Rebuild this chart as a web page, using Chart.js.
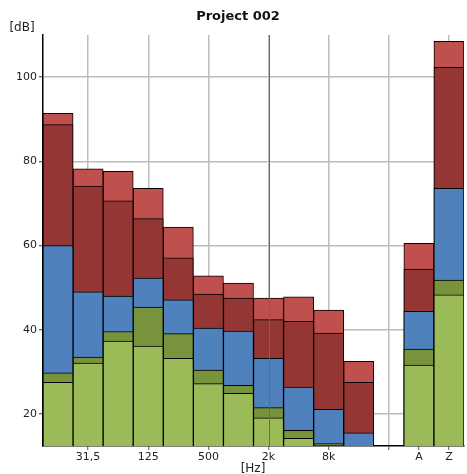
<!DOCTYPE html>
<html>
<head>
<meta charset="utf-8">
<script src="https://cdn.jsdelivr.net/npm/chart.js@4.4.1/dist/chart.umd.min.js"></script>
<style>
  html, body { margin: 0; padding: 0; background: #fff; }
  #box { width: 467px; height: 474px; }
</style>
</head>
<body>
<div id="box"><canvas id="grafico"></canvas></div>
<script>
// bandas de oitava + A / Z (uma posição vazia entre elas)
let bandas = ["16", "31,5", "63", "125", "250", "500", "1k", "2k", "4k", "8k", "16k", "", "A", "Z"];
let rotulosX = ["", "31,5", "", "125", "", "500", "", "2k", "", "8k", "", "", "A", "Z"];
let ticksY = [20, 40, 60, 80, 100];

// níveis em dB, do menor para o maior
let verdeClaro  = [27.5, 32.1, 37.3, 36.1, 33.2, 27.2, 24.9, 19.1, 14.2, 12.5, 8, null, 31.6, 48.3];
let verdeEscuro = [29.8, 33.5, 39.6, 45.4, 39.1, 30.4, 26.8, 21.5, 16.1, 13.0, 10, null, 35.4, 51.8];
let azul        = [60.0, 49.0, 48.0, 52.3, 47.1, 40.4, 39.7, 33.2, 26.4, 21.1, 15.5, null, 44.4, 73.6];
let vermEscuro  = [88.7, 74.1, 70.6, 66.4, 57.1, 48.5, 47.5, 42.4, 42.0, 39.2, 27.5, null, 54.4, 102.3];
let vermClaro   = [91.4, 78.2, 77.6, 73.6, 64.4, 52.8, 51.1, 47.5, 47.8, 44.7, 32.5, null, 60.5, 108.5];

let fonte = "'DejaVu Sans', Verdana, sans-serif";

function serie(dados, cor) {
  return {
    data: dados,
    backgroundColor: cor,
    borderColor: "#000000",
    borderWidth: 1,
    borderSkipped: false,
    barPercentage: 1,
    categoryPercentage: 1
  };
}

// linha roxa em 2k e textos fixos
const extras = {
  id: "extras",
  afterDatasetsDraw(chart) {
    const ctx = chart.ctx;
    const area = chart.chartArea;
    const x = chart.scales.x.getPixelForValue(7);
    ctx.save();
    ctx.strokeStyle = "#7a5a8c";
    ctx.lineWidth = 1;
    ctx.beginPath();
    ctx.moveTo(Math.round(x) + 0.5, area.top);
    ctx.lineTo(Math.round(x) + 0.5, area.bottom);
    ctx.stroke();
    ctx.restore();
  },
  afterDraw(chart) {
    const ctx = chart.ctx;
    ctx.save();
    ctx.fillStyle = "#111";
    ctx.textBaseline = "middle";
    ctx.textAlign = "center";
    ctx.font = "bold 13px " + fonte;
    ctx.fillText("Project 002", 238, 17);
    ctx.font = "12px " + fonte;
    ctx.fillStyle = "#222";
    ctx.fillText("[dB]", 22, 28);
    ctx.fillText("[Hz]", 253, 469);
    ctx.restore();
  }
};

new Chart(document.getElementById("grafico"), {
  type: "bar",
  data: {
    labels: bandas,
    datasets: [
      serie(verdeClaro, "#9bbb59"),
      serie(verdeEscuro, "#77933c"),
      serie(azul, "#4f81bd"),
      serie(vermEscuro, "#943634"),
      serie(vermClaro, "#c0504d")
    ]
  },
  options: {
    responsive: true,
    maintainAspectRatio: false,
    animation: false,
    layout: { padding: { top: 35, right: 3, left: 0, bottom: 0 } },
    plugins: {
      legend: { display: false },
      title: { display: false },
      tooltip: { enabled: false }
    },
    scales: {
      x: {
        stacked: true,
        afterFit: s => { s.height = 28; },
        border: { color: "#000", width: 1.5 },
        grid: {
          offset: false,
          color: c => (c.index % 2 === 1 ? "#bdbdbd" : "rgba(0,0,0,0)"),
          lineWidth: 1.5,
          tickLength: 4,
          tickWidth: 1,
          tickColor: c => (c.index % 2 === 1 || c.index >= 11 ? "#555" : "rgba(0,0,0,0)")
        },
        ticks: {
          autoSkip: false,
          maxRotation: 0,
          color: "#222",
          padding: 1,
          font: { family: fonte, size: 11 },
          callback: (v, i) => rotulosX[i]
        }
      },
      y: {
        min: 12.4,
        max: 110,
        afterFit: s => { s.width = 43; },
        afterBuildTicks: s => { s.ticks = ticksY.map(v => ({ value: v })); },
        border: { color: "#000", width: 1.5 },
        grid: {
          color: "#bdbdbd",
          lineWidth: 1.5,
          tickLength: 4,
          tickWidth: 1,
          tickColor: "#333"
        },
        ticks: {
          color: "#222",
          padding: 2,
          font: { family: fonte, size: 11 }
        }
      }
    }
  },
  plugins: [extras]
});
</script>
</body>
</html>
